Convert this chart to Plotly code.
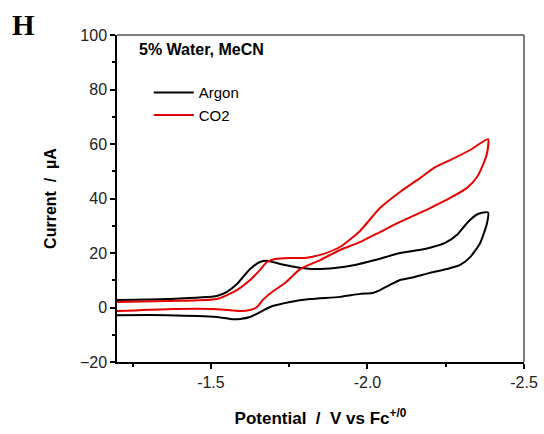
import plotly.graph_objects as go

# Cyclic voltammograms in 5% water / MeCN: cathodic sweep followed by the return sweep
argon_potential = [-1.200, -1.360, -1.519, -1.551, -1.583, -1.625, -1.657, -1.682, -1.721,
                   -1.769, -1.833, -1.896, -1.960, -2.024, -2.104, -2.184, -2.248, -2.289,
                   -2.321, -2.353, -2.385,
                   -2.382, -2.360, -2.328, -2.296, -2.254, -2.200, -2.136, -2.104, -2.072,
                   -2.040, -2.015, -1.976, -1.912, -1.817, -1.753, -1.689, -1.657, -1.625,
                   -1.593, -1.561, -1.519, -1.360, -1.200]
argon_current = [2.75, 3.1, 4.2, 5.7, 8.6, 14.1, 16.7, 17.1, 16.0,
                 14.9, 14.1, 14.5, 15.6, 17.4, 20.0, 21.5, 23.7, 27.0,
                 31.4, 34.3, 34.9,
                 31.0, 23.7, 18.5, 15.6, 14.1, 12.7, 10.8, 10.1, 8.3,
                 6.4, 5.3, 5.0, 3.9, 3.1, 2.0, 0.2, -1.7, -3.5,
                 -4.2, -4.2, -3.5, -2.8, -2.8]

co2_potential = [-1.200, -1.360, -1.519, -1.583, -1.625, -1.657, -1.679, -1.705, -1.753,
                 -1.801, -1.849, -1.912, -1.976, -2.040, -2.104, -2.168, -2.216, -2.264,
                 -2.328, -2.385,
                 -2.382, -2.369, -2.350, -2.318, -2.264, -2.200, -2.104, -2.040, -1.976,
                 -1.912, -1.849, -1.785, -1.737, -1.695, -1.666, -1.647, -1.625, -1.593,
                 -1.519, -1.360, -1.200]
co2_current = [2.0, 2.4, 3.1, 6.4, 10.1, 13.8, 16.7, 17.8, 18.2,
               18.2, 19.3, 22.2, 28.1, 36.5, 42.4, 47.5, 51.5, 54.1,
               57.8, 61.8,
               56.7, 52.3, 47.9, 43.9, 40.2, 36.5, 31.4, 27.7, 24.0,
               21.1, 17.4, 14.1, 9.0, 5.7, 2.8, 0.2, -0.9, -1.3,
               -0.6, -0.6, -1.3]

x_ticks = [-1.5, -2.0, -2.5]
x_tick_text = ["-1.5", "-2.0", "-2.5"]
y_ticks = [-20, 0, 20, 40, 60, 80, 100]

fig = go.Figure()
fig.add_trace(go.Scatter(x=argon_potential, y=argon_current, mode="lines", name="Argon",
                         line=dict(color="#000000", width=2, shape="spline", smoothing=0.6)))
fig.add_trace(go.Scatter(x=co2_potential, y=co2_current, mode="lines", name="CO2",
                         line=dict(color="#e60000", width=2, shape="spline", smoothing=0.6)))

tick_font = dict(family="Liberation Sans, Arial", size=16, color="#222222")

fig.update_layout(
    width=544, height=434,
    margin=dict(l=117, r=20, t=35, b=72, autoexpand=False),
    paper_bgcolor="white", plot_bgcolor="white",
    showlegend=True,
    legend=dict(x=0.078, y=0.874, xanchor="left", yanchor="top",
                font=dict(family="Liberation Sans, Arial", size=15, color="#000000"),
                bgcolor="rgba(0,0,0,0)", itemwidth=40, tracegroupgap=0),
    xaxis=dict(range=[-1.2, -2.5], tickvals=x_ticks, ticktext=x_tick_text, automargin=False,
               ticks="outside", ticklen=5, tickwidth=1.5, tickcolor="#000",
               minor=dict(tickvals=[-1.25, -1.75, -2.25], ticks="outside", ticklen=3,
                          tickwidth=1.5, tickcolor="#000"),
               showline=True, linecolor="#000", linewidth=1.5, showgrid=False, zeroline=False,
               tickfont=tick_font,
               title=dict(text="<b>Potential  /  V vs Fc<sup>+/0</sup></b>",
                          font=dict(family="Liberation Sans, Arial", size=17, color="#000"),
                          standoff=22)),
    yaxis=dict(range=[-20, 100], tickvals=y_ticks, automargin=False,
               ticks="outside", ticklen=5, tickwidth=1.5, tickcolor="#000",
               minor=dict(tickvals=[-10, 10, 30, 50, 70, 90], ticks="outside", ticklen=3,
                          tickwidth=1.5, tickcolor="#000"),
               showline=True, linecolor="#000", linewidth=1.5, showgrid=False, zeroline=False,
               tickfont=tick_font,
               title=dict(text="<b>Current  /  µA</b>",
                          font=dict(family="Liberation Sans, Arial", size=16, color="#000"),
                          standoff=19)),
)

# frame along the top and right edges
fig.add_shape(type="line", xref="paper", yref="paper", x0=0, x1=1, y0=1, y1=1,
              line=dict(color="#555555", width=1.5))
fig.add_shape(type="line", xref="paper", yref="paper", x0=1, x1=1, y0=0, y1=1,
              line=dict(color="#555555", width=1.5))

fig.add_annotation(text="<b>5% Water, MeCN</b>", xref="paper", yref="paper",
                   x=0.048, y=0.955, xanchor="left", yanchor="middle", showarrow=False,
                   font=dict(family="Liberation Sans, Arial", size=16, color="#000"))
fig.add_annotation(text="<b>H</b>", xref="paper", yref="paper",
                   x=-0.262, y=1.03, xanchor="left", yanchor="middle", showarrow=False,
                   font=dict(family="Liberation Serif, Times New Roman", size=29, color="#000"))

fig.write_html("out.html")
